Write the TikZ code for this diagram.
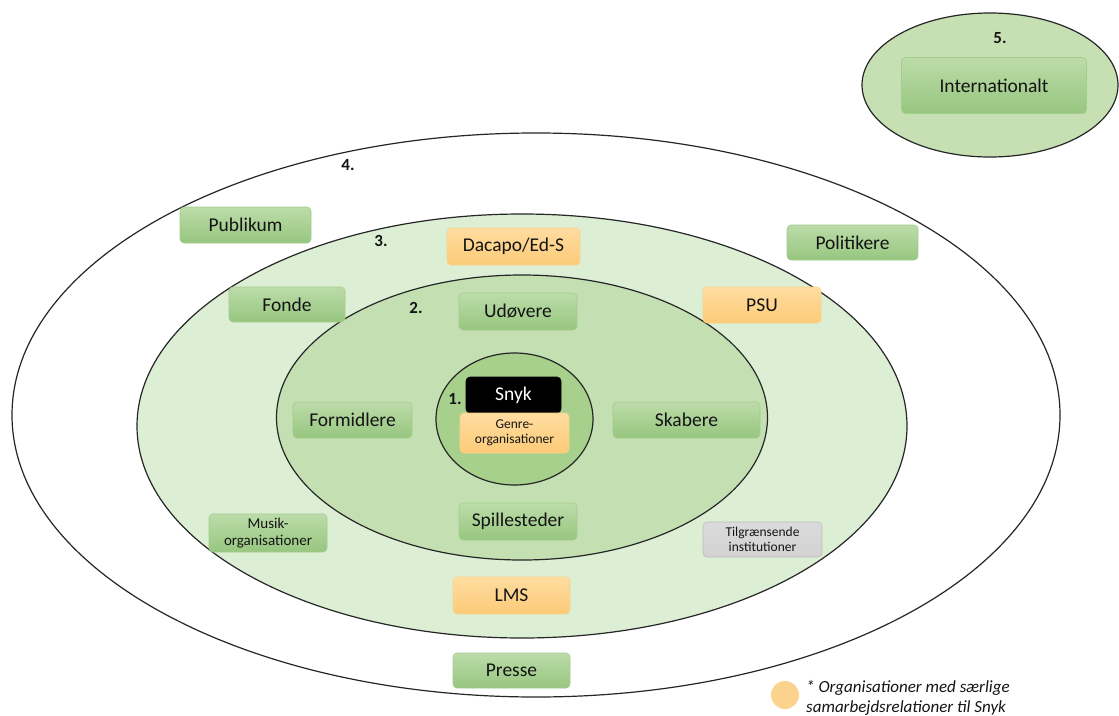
\documentclass[tikz,border=0pt]{standalone}
\usepackage{fontspec}
\setmainfont{Carlito}
\usetikzlibrary{shadings}
\definecolor{ringthree}{HTML}{DCEFD5}
\definecolor{ringtwo}{HTML}{C4E0B2}
\definecolor{ringone}{HTML}{A8D08D}
\definecolor{ringfive}{HTML}{C6E0B4}
\definecolor{gtop}{HTML}{BCDCA9}
\definecolor{gbot}{HTML}{97C67F}
\definecolor{gline}{HTML}{A3CC8E}
\definecolor{otop}{HTML}{FFDCA0}
\definecolor{obot}{HTML}{FCCB78}
\definecolor{oline}{HTML}{F8D38F}
\definecolor{graybox}{HTML}{D2D2D2}
\definecolor{txt}{HTML}{141414}
\tikzset{
  ring/.style={draw=black!85, line width=1.2pt},
  boxbase/.style={rounded corners=4pt, inner sep=0pt, align=center, text=txt, line width=0.6pt},
  greenbox/.style={boxbase, top color=gtop, bottom color=gbot, draw=gline},
  orangebox/.style={boxbase, top color=otop, bottom color=obot, draw=oline},
  greybox/.style={boxbase, top color=graybox!80, bottom color=graybox, draw=graybox!90!black},
  blackbox/.style={boxbase, fill=black, draw=black, text=white},
  big/.style={font=\fontsize{19.5}{21}\selectfont},
  small/.style={font=\fontsize{13.5}{15.5}\selectfont},
  num/.style={font=\fontsize{17}{19}\selectfont\bfseries, text=txt},
}
\begin{document}
\begin{tikzpicture}[x=1pt,y=-1pt]
\useasboundingbox (0,0) rectangle (1119,715);
\fill[white] (0,0) rectangle (1119,715);
% rings
\draw[ring, fill=white] (536,415) ellipse [x radius=524pt, y radius=282pt];
\draw[ring, fill=ringthree] (522,426) ellipse [x radius=385pt, y radius=212pt];
\draw[ring, fill=ringtwo] (522,417.5) ellipse [x radius=245.5pt, y radius=142.5pt];
\draw[ring, fill=ringone] (514.5,419) ellipse [x radius=78.5pt, y radius=66pt];
\draw[ring, fill=ringfive] (990,85) ellipse [x radius=128pt, y radius=72pt];
% numbers
\node[num] (n5) at (1000,38) {5.};
\node[num] (n4) at (348,165) {4.};
\node[num] (n3) at (381,241) {3.};
\node[num] (n2) at (416,308) {2.};
\node[num] (n1) at (455,399) {1.};
% boxes
\node[greenbox, big, minimum width=185pt, minimum height=56pt] (intl) at (994,85.5) {Internationalt};
\node[greenbox, big, minimum width=131pt, minimum height=36pt] (publikum) at (245.5,225) {Publikum};
\node[orangebox, big, minimum width=133pt, minimum height=37pt] (dacapo) at (513.5,246.5) {Dacapo/Ed-S};
\node[greenbox, big, minimum width=131pt, minimum height=35pt] (politikere) at (852.5,242.5) {Politikere};
\node[orangebox, big, minimum width=118pt, minimum height=36pt] (psu) at (762,305) {PSU};
\node[greenbox, big, minimum width=116pt, minimum height=35pt] (fonde) at (287,304.5) {Fonde};
\node[greenbox, big, minimum width=118pt, minimum height=37pt] (udovere) at (518,311.5) {Udøvere};
\node[blackbox, big, minimum width=95pt, minimum height=36pt] (snyk) at (513.5,395) {Snyk};
\node[orangebox, small, minimum width=109pt, minimum height=40pt] (genre) at (514.5,433) {Genre-\\organisationer};
\node[greenbox, big, minimum width=119pt, minimum height=36pt] (formidlere) at (352.5,420) {Formidlere};
\node[greenbox, big, minimum width=147pt, minimum height=36pt] (skabere) at (686.5,420) {Skabere};
\node[greenbox, big, minimum width=118pt, minimum height=37pt] (spillesteder) at (518,521.5) {Spillesteder};
\node[greenbox, font=\fontsize{15}{17}\selectfont, minimum width=118pt, minimum height=38pt] (musik) at (268,533) {Musik-\\organisationer};
\node[greybox, small, minimum width=119pt, minimum height=35pt] (tilgr) at (762.5,539.5) {Tilgrænsende\\institutioner};
\node[orangebox, big, minimum width=117pt, minimum height=37pt] (lms) at (511.5,595.5) {LMS};
\node[greenbox, big, minimum width=117pt, minimum height=35pt] (presse) at (511.5,670.5) {Presse};
% legend
\fill[obot!85!white] (785,695) circle [radius=14pt];
\node[anchor=west, align=left, text=txt, font=\fontsize{17}{20}\selectfont\itshape, inner sep=0pt] (legend) at (806,698) {* Organisationer med særlige\\samarbejdsrelationer til Snyk};
\end{tikzpicture}
\end{document}
